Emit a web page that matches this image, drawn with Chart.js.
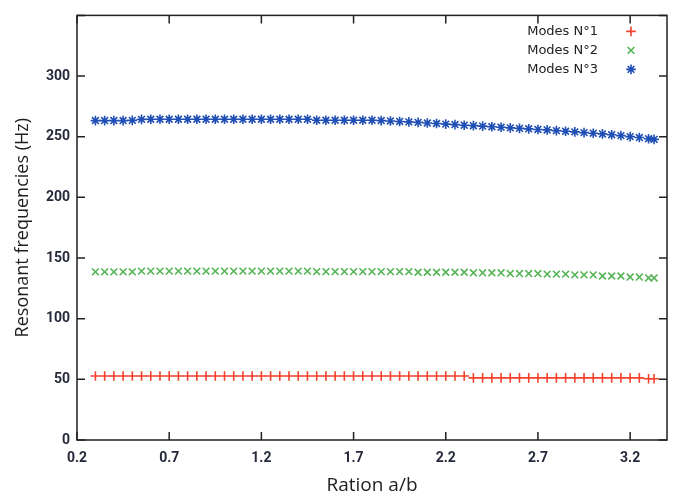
<!DOCTYPE html>
<html>
<head>
<meta charset="utf-8">
<script src="https://cdn.jsdelivr.net/npm/chart.js@4.4.1/dist/chart.umd.min.js"></script>
<style>
	html, body { margin: 0; padding: 0; background: #fff; }
	#wrap { width: 676px; height: 500px; }
</style>
</head>
<body>
<div id="wrap"><canvas id="freq"></canvas></div>
<script>
// ratio a/b (x), step 0.05 plus last point
var ratios = [
	0.30, 0.35, 0.40, 0.45, 0.50, 0.55, 0.60, 0.65, 0.70, 0.75,
	0.80, 0.85, 0.90, 0.95, 1.00, 1.05, 1.10, 1.15, 1.20, 1.25,
	1.30, 1.35, 1.40, 1.45, 1.50, 1.55, 1.60, 1.65, 1.70, 1.75,
	1.80, 1.85, 1.90, 1.95, 2.00, 2.05, 2.10, 2.15, 2.20, 2.25,
	2.30, 2.35, 2.40, 2.45, 2.50, 2.55, 2.60, 2.65, 2.70, 2.75,
	2.80, 2.85, 2.90, 2.95, 3.00, 3.05, 3.10, 3.15, 3.20, 3.25,
	3.30, 3.33
];

var mode1 = [
	52.7, 52.7, 52.7, 52.7, 52.7, 52.7, 52.7, 52.7, 52.7, 52.7,
	52.7, 52.7, 52.7, 52.7, 52.7, 52.7, 52.7, 52.7, 52.7, 52.7,
	52.7, 52.7, 52.7, 52.7, 52.7, 52.7, 52.7, 52.7, 52.7, 52.7,
	52.7, 52.7, 52.7, 52.7, 52.7, 52.7, 52.7, 52.7, 52.7, 52.7,
	52.7, 51.2, 51.2, 51.2, 51.2, 51.2, 51.2, 51.2, 51.2, 51.2,
	51.2, 51.2, 51.2, 51.2, 51.2, 51.2, 51.2, 51.2, 51.2, 51.2,
	50.5, 50.5
];

var mode2 = [
	138.6, 138.6, 138.6, 138.6, 138.6, 139.2, 139.2, 139.2, 139.2, 139.2,
	139.2, 139.2, 139.2, 139.2, 139.2, 139.2, 139.2, 139.2, 139.2, 139.2,
	139.2, 139.2, 139.2, 139.2, 138.8, 138.8, 138.8, 138.8, 138.8, 138.8,
	138.8, 138.8, 138.8, 138.8, 138.8, 138.3, 138.3, 138.3, 138.3, 138.3,
	138.3, 137.8, 137.8, 137.8, 137.8, 137.2, 137.2, 137.2, 137.2, 136.7,
	136.7, 136.7, 136.1, 136.1, 136.1, 135.2, 135.2, 135.2, 134.3, 134.3,
	133.6, 133.6
];

var mode3 = [
	263.3, 263.3, 263.3, 263.3, 263.5, 264.3, 264.4, 264.4, 264.4, 264.4,
	264.4, 264.4, 264.4, 264.4, 264.4, 264.4, 264.4, 264.4, 264.4, 264.4,
	264.4, 264.4, 264.4, 264.4, 263.6, 263.6, 263.6, 263.6, 263.6, 263.6,
	263.6, 263.3, 263.0, 262.6, 262.2, 261.8, 261.3, 260.9, 260.4, 260.0,
	259.5, 259.1, 258.7, 258.2, 257.8, 257.3, 256.9, 256.5, 256.0, 255.6,
	255.0, 254.5, 254.0, 253.4, 252.9, 252.3, 251.6, 250.9, 250.1, 249.3,
	248.3, 247.8
];

var xTicks = [0.2, 0.7, 1.2, 1.7, 2.2, 2.7, 3.2];
var yTicks = [0, 50, 100, 150, 200, 250, 300, 350];

var names = ['Modes N°1', 'Modes N°2', 'Modes N°3'];
var colors = ['#f5402c', '#55b455', '#1f4fb4'];
var styles = ['cross', 'crossRot', 'star'];

function points(ys) {
	return ys.map(function (y, i) {
		return { x: ratios[i], y: y };
	});
}

// frame, inward ticks on all four sides, and gnuplot-like key
var framePlugin = {
	id: 'frame',
	afterDraw: function (chart) {
		var ctx = chart.ctx;
		var a = chart.chartArea;
		var xs = chart.scales.x;
		var ys = chart.scales.y;
		ctx.save();
		ctx.strokeStyle = '#222';
		ctx.lineWidth = 1.5;
		ctx.strokeRect(a.left, a.top, a.right - a.left, a.bottom - a.top);
		ctx.beginPath();
		xTicks.forEach(function (v) {
			var px = xs.getPixelForValue(v);
			ctx.moveTo(px, a.bottom);
			ctx.lineTo(px, a.bottom - 8);
			ctx.moveTo(px, a.top);
			ctx.lineTo(px, a.top + 8);
		});
		yTicks.forEach(function (v) {
			var py = ys.getPixelForValue(v);
			ctx.moveTo(a.left, py);
			ctx.lineTo(a.left + 8, py);
			ctx.moveTo(a.right, py);
			ctx.lineTo(a.right - 8, py);
		});
		ctx.stroke();

		// key
		ctx.font = '13px "DejaVu Sans"';
		ctx.textAlign = 'right';
		ctx.textBaseline = 'middle';
		for (var i = 0; i < names.length; i++) {
			var y = a.top + 16 + i * 19;
			ctx.fillStyle = '#222';
			ctx.fillText(names[i], a.right - 69, y);
			ctx.strokeStyle = colors[i];
			ctx.lineWidth = 1.6;
			Chart.helpers.drawPoint(ctx, { pointStyle: styles[i], radius: 4.8, borderWidth: 1.6 }, a.right - 36, y);
		}
		ctx.restore();
	}
};

window.onload = function () {
	var ctx = document.getElementById('freq').getContext('2d');
	var series = [mode1, mode2, mode3];

	new Chart(ctx, {
		type: 'scatter',
		data: {
			datasets: series.map(function (s, i) {
				return {
					label: names[i],
					data: points(s),
					pointStyle: styles[i],
					pointRadius: 4.8,
					borderColor: colors[i],
					backgroundColor: colors[i],
					pointBorderWidth: 1.6,
					showLine: false
				};
			})
		},
		options: {
			responsive: true,
			maintainAspectRatio: false,
			animation: false,
			layout: { padding: { left: 0, right: 9, top: 10, bottom: 0 } },
			plugins: {
				legend: { display: false },
				tooltip: { enabled: false }
			},
			scales: {
				x: {
					type: 'linear',
					min: 0.2,
					max: 3.4,
					afterBuildTicks: function (scale) {
						scale.ticks = xTicks.map(function (v) { return { value: v }; });
					},
					afterFit: function (scale) { scale.height = 60; },
					grid: { display: false, drawTicks: false },
					border: { display: false },
					ticks: {
						padding: 10,
						color: '#262a3b',
						font: { family: 'Roboto', size: 14, weight: 'bold' },
						callback: function (v) { return v.toFixed(1); }
					},
					title: {
						display: true,
						text: 'Ration a/b',
						color: '#1e1e1e',
						font: { family: 'Open Sans', size: 19 },
						padding: { top: 0, bottom: 3 }
					}
				},
				y: {
					min: 0,
					max: 350,
					afterBuildTicks: function (scale) {
						scale.ticks = yTicks.map(function (v) { return { value: v }; });
					},
					afterFit: function (scale) { scale.width = 77; },
					grid: { display: false, drawTicks: false },
					border: { display: false },
					ticks: {
						padding: 7,
						color: '#262a3b',
						font: { family: 'Roboto', size: 14, weight: 'bold' },
						callback: function (v) { return v === 350 ? '' : v; }
					},
					title: {
						display: true,
						text: 'Resonant frequencies (Hz)',
						color: '#1e1e1e',
						font: { family: 'Open Sans', size: 18 },
						padding: { top: 12, bottom: 0 }
					}
				}
			}
		},
		plugins: [framePlugin]
	});
};
</script>
</body>
</html>
